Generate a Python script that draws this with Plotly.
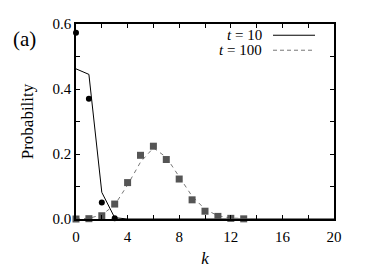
import plotly.graph_objects as go

k_t10_pts = [0, 1, 2, 3]
p_t10_pts = [0.573, 0.37, 0.051, 0.002]
k_t10_line = [0, 1, 2, 3, 4, 5, 6, 8, 10, 12, 14, 16, 18, 20]
p_t10_line = [0.462, 0.445, 0.082, 0.004, 0.0, 0, 0, 0, 0, 0, 0, 0, 0, 0]

k_t100 = [0, 1, 2, 3, 4, 5, 6, 7, 8, 9, 10, 11, 12, 13]
p_t100_pts = [0.0, 0.001, 0.01, 0.046, 0.112, 0.196, 0.224, 0.183, 0.123, 0.059, 0.024, 0.008, 0.002, 0.0005]
k_t100_line = [0, 1, 2, 3, 4, 5, 6, 7, 8, 9, 10, 11, 12, 13, 14]
p_t100_line = [0.0, 0.002, 0.013, 0.043, 0.105, 0.175, 0.219, 0.19, 0.13, 0.07, 0.03, 0.01, 0.003, 0.001, 0.0]

x_ticks = [0, 4, 8, 12, 16, 20]
y_ticks = [0.0, 0.2, 0.4, 0.6]
y_tick_labels = ["0.0", "0.2", "0.4", "0.6"]

FONT = "Liberation Serif, Times New Roman, DejaVu Serif, serif"
GRAY = "#555555"

# plot area in page pixels (reference)
PL, PR, PT, PB = 76, 334, 16, 219
PW, PH = PR - PL, PB - PT


def px(xp):
    return (xp - PL) / PW


def py(yp):
    return (PB - yp) / PH


fig = go.Figure()
fig.add_trace(go.Scatter(x=k_t10_line, y=p_t10_line, mode="lines",
                         line=dict(color="black", width=1), showlegend=False))
fig.add_trace(go.Scatter(x=k_t100_line, y=p_t100_line, mode="lines",
                         line=dict(color="#777777", width=1, dash="4px,4px"), showlegend=False))
fig.add_trace(go.Scatter(x=k_t10_pts, y=p_t10_pts, mode="markers",
                         marker=dict(color="black", size=6, symbol="circle"),
                         showlegend=False, cliponaxis=False))
fig.add_trace(go.Scatter(x=k_t100, y=p_t100_pts, mode="markers",
                         marker=dict(color=GRAY, size=7, symbol="square"),
                         showlegend=False, cliponaxis=False))

axis_common = dict(showline=True, linecolor="black", linewidth=1.5, mirror="allticks",
                   ticks="inside", ticklen=4, tickwidth=1, tickcolor="black",
                   showgrid=False, zeroline=False,
                   tickfont=dict(family=FONT, size=15, color="black"))

fig.update_xaxes(range=[0, 20], tickvals=x_ticks, ticklabelstandoff=3,
                 minor=dict(dtick=2, ticks="inside", ticklen=4, tickcolor="black", showgrid=False),
                 title=dict(text="<i>k</i>", font=dict(family=FONT, size=17, color="black"), standoff=8),
                 **axis_common)
fig.update_yaxes(range=[0, 0.6], tickvals=y_ticks, ticktext=y_tick_labels,
                 minor=dict(dtick=0.1, ticks="inside", ticklen=4, tickcolor="black", showgrid=False),
                 title=dict(text="Probability", font=dict(family=FONT, size=17, color="black"), standoff=15),
                 **axis_common)

leg = [("<i>t</i> = 10", 27.7, dict(color="black", width=1, dash="solid")),
       ("<i>t</i> = 100", 43.3, dict(color="#777777", width=1, dash="4px,3px"))]
for txt, ypx, ln in leg:
    fig.add_annotation(x=px(264), y=py(ypx), xref="paper", yref="paper",
                       text=txt, showarrow=False, xanchor="right", yanchor="middle",
                       font=dict(family=FONT, size=15, color="black"))
    fig.add_shape(type="line", xref="paper", yref="paper",
                  x0=px(273), x1=px(315), y0=py(ypx), y1=py(ypx), line=ln)

fig.add_annotation(x=px(24), y=py(32), xref="paper", yref="paper", text="(a)",
                   showarrow=False, xanchor="center", yanchor="middle",
                   font=dict(family=FONT, size=21, color="black"))

# page body has an 8px default margin; offset layout margins accordingly
W, H = 382, 267
OFF = 8
fig.update_layout(width=W, height=H,
                  margin=dict(l=PL - OFF, r=W - (PR - OFF), t=PT - OFF, b=H - (PB - OFF)),
                  plot_bgcolor="white", paper_bgcolor="white")
fig.write_html("out.html")
